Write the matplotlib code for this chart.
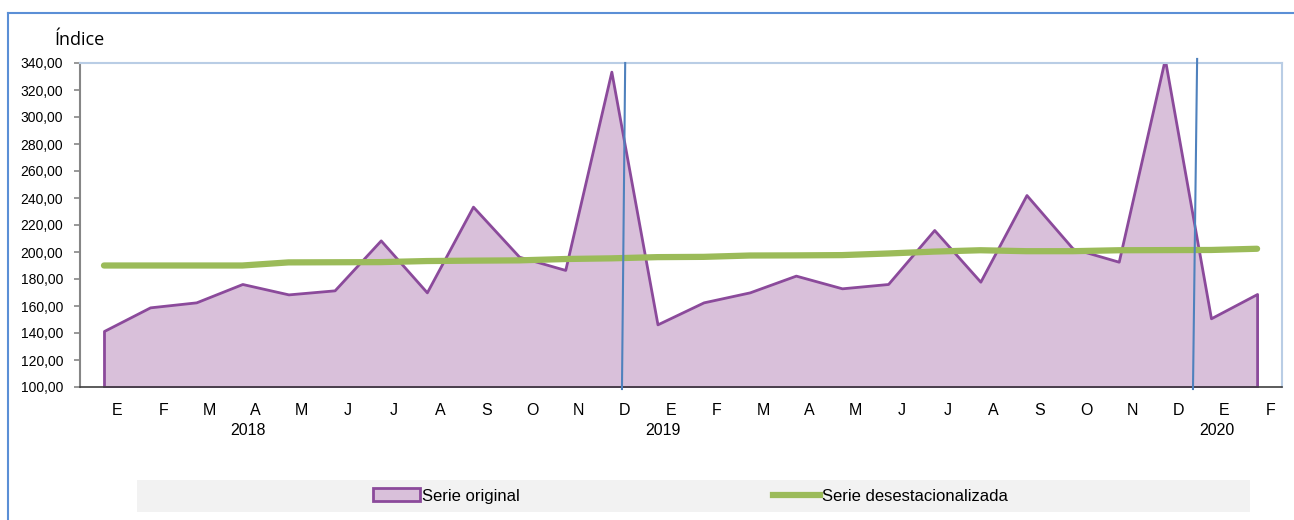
import matplotlib.pyplot as plt
from matplotlib.lines import Line2D
from matplotlib.patches import Patch, Rectangle

# Data (Jan 2018 - Feb 2020)
months = ["E", "F", "M", "A", "M", "J", "J", "A", "S", "O", "N", "D",
          "E", "F", "M", "A", "M", "J", "J", "A", "S", "O", "N", "D",
          "E", "F"]
years = ["2018", "2019", "2020"]
year_idx = [3, 12, 24]

serie_original = [141.5, 159.0, 162.7, 176.3, 168.6, 171.6, 208.6, 170.1,
                  233.6, 196.5, 186.7, 333.6, 146.4, 162.7, 170.1, 182.5,
                  173.1, 176.3, 216.3, 178.0, 242.2, 202.7, 192.8, 343.0,
                  150.9, 168.9]
serie_desest = [190.0, 190.0, 190.0, 190.0, 192.3, 192.4, 192.5, 193.3,
                193.6, 193.8, 194.8, 195.3, 196.2, 196.4, 197.4, 197.5,
                197.7, 198.9, 200.3, 201.3, 200.6, 200.6, 201.3, 201.4,
                201.5, 202.4]

# hand-drawn vertical markers (slightly slanted in the original)
marker_lines = [((11.30, 340), (11.23, 98.5)), ((23.70, 343), (23.61, 98.5))]

purple_fill = "#D9C0DA"
purple_edge = "#8B4A9B"
green = "#9BBB59"
blue = "#4F81BD"

plt.rcParams['font.family'] = ['Liberation Sans', 'DejaVu Sans']

fig = plt.figure(figsize=(12.94, 5.2), dpi=100)
ax = fig.add_axes([80 / 1294, 133 / 520, 1202 / 1294, 324 / 520])

x = list(range(len(serie_original)))
ax.fill_between(x, serie_original, 100, facecolor=purple_fill,
                edgecolor=purple_edge, linewidth=2, zorder=2)
ax.plot(x, serie_desest, color=green, linewidth=4.5,
        solid_capstyle='round', zorder=3)

for (x0, y0), (x1, y1) in marker_lines:
    ax.plot([x0, x1], [y0, y1], color=blue, linewidth=1.5,
            clip_on=False, zorder=4)

ax.set_xlim(-0.52, 25.54)
ax.set_ylim(100, 340)
ax.set_yticks(range(100, 341, 20))
ax.set_yticklabels([f"{v},00" for v in range(100, 341, 20)], fontsize=10)
ax.tick_params(axis='y', length=4, width=1.2, color="#868686", pad=8)
ax.set_xticks([])

for side in ["top", "right"]:
    ax.spines[side].set_color("#B9CDE5")
    ax.spines[side].set_linewidth(1.5)
ax.spines["left"].set_color("#868686")
ax.spines["left"].set_linewidth(1.5)
ax.spines["bottom"].set_color("#3F3F3F")
ax.spines["bottom"].set_linewidth(1.2)

tr = ax.get_xaxis_transform()
for i, m in enumerate(months):
    ax.text(i + 0.29, -0.071, m, transform=tr, ha='center', va='center',
            fontsize=11.5)
for i, yr in zip(year_idx, years):
    ax.text(i + 0.12, -0.133, yr, transform=tr, ha='center', va='center',
            fontsize=11.5)

fig.text(54 / 1294, 1 - 40 / 520, "Índice", fontsize=13,
         family=['Open Sans', 'DejaVu Sans'], ha='left', va='center')

# outer chart frame (left and top edges only visible)
fig.add_artist(Line2D([8 / 1294, 8 / 1294], [0, 1 - 13 / 520],
                      color="#5B8FD6", linewidth=1.5))
fig.add_artist(Line2D([8 / 1294, 1], [1 - 13 / 520, 1 - 13 / 520],
                      color="#5B8FD6", linewidth=1.5))

# legend band
fig.add_artist(Rectangle((137 / 1294, 1 - 512 / 520), 1113 / 1294, 32 / 520,
                         transform=fig.transFigure, facecolor="#F2F2F2",
                         edgecolor='none', zorder=0))
handles = [Patch(facecolor=purple_fill, edgecolor=purple_edge, linewidth=2),
           Line2D([0], [0], color=green, linewidth=4.5)]
fig.legend(handles, ["Serie original", "Serie desestacionalizada"],
           loc='center left', bbox_to_anchor=(358 / 1294, 1 - 496 / 520),
           ncol=2, frameon=False, handlelength=2.8, handleheight=0.8,
           handletextpad=0.15, columnspacing=15.2,
           prop={'family': ['Liberation Sans'], 'size': 12})

fig.savefig("out.png", dpi=100)
